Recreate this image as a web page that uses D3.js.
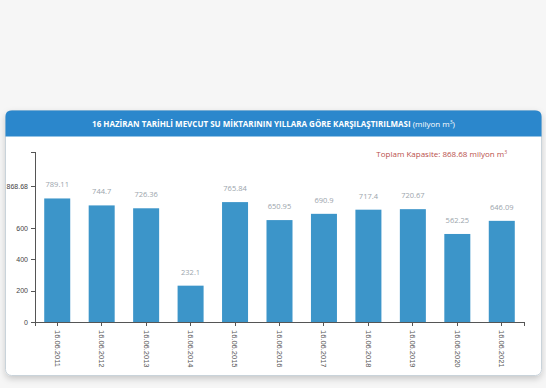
<!DOCTYPE html>
<meta charset="utf-8">
<style>
  body {
    margin: 0;
    background: #f6f6f6;
    font-family: 'Open Sans', sans-serif;
  }

  .axis path,
  .axis line {
    fill: none;
    stroke: #555;
    stroke-width: 1;
    shape-rendering: crispEdges;
  }

  .axis text {
    font-size: 7px;
    fill: #444;
  }
</style>

<body>
  <div id="chart"></div>
  <script src="https://d3js.org/d3.v7.min.js"></script>

  <script>
    // data
    var dates = ["16.06.2011", "16.06.2012", "16.06.2013", "16.06.2014", "16.06.2015", "16.06.2016",
      "16.06.2017", "16.06.2018", "16.06.2019", "16.06.2020", "16.06.2021"];
    var volumes = [789.11, 744.7, 726.36, 232.1, 765.84, 650.95, 690.9, 717.4, 720.67, 562.25, 646.09];
    var yTicks = [0, 200, 400, 600, 868.68];
    var capacity = 868.68;

    var W = 546, H = 388;

    var svg = d3.select("#chart")
      .append("svg")
      .attr("width", W)
      .attr("height", H);

    // card with shadow
    var defs = svg.append("defs");
    var f = defs.append("filter").attr("id", "shadow").attr("x", "-5%").attr("y", "-5%").attr("width", "110%").attr("height", "120%");
    f.append("feDropShadow").attr("dx", 0).attr("dy", 3).attr("stdDeviation", 3).attr("flood-color", "#000").attr("flood-opacity", 0.18);

    var card = {x: 5.5, y: 110.5, w: 536, h: 265, r: 6};
    svg.append("rect")
      .attr("x", card.x).attr("y", card.y)
      .attr("width", card.w).attr("height", card.h)
      .attr("rx", card.r)
      .attr("fill", "#fff")
      .attr("stroke", "#c9d3da")
      .attr("filter", "url(#shadow)");

    // blue header with rounded top corners
    var hh = 26;
    svg.append("path")
      .attr("d", "M" + card.x + "," + (card.y + hh) +
        "V" + (card.y + card.r) +
        "Q" + card.x + "," + card.y + " " + (card.x + card.r) + "," + card.y +
        "H" + (card.x + card.w - card.r) +
        "Q" + (card.x + card.w) + "," + card.y + " " + (card.x + card.w) + "," + (card.y + card.r) +
        "V" + (card.y + hh) + "Z")
      .attr("fill", "#2b87cc");

    var title = svg.append("text")
      .attr("x", card.x + card.w / 2)
      .attr("y", card.y + 16)
      .attr("text-anchor", "middle")
      .attr("fill", "#fff")
      .style("font-size", "8px")
      .style("font-weight", "bold");
    title.append("tspan").text("16 HAZİRAN TARİHLİ MEVCUT SU MİKTARININ YILLARA GÖRE KARŞILAŞTIRILMASI ");
    title.append("tspan").style("font-weight", "normal").text("(milyon m");
    title.append("tspan").style("font-weight", "normal").attr("dy", -3).style("font-size", "5px").text("3");
    title.append("tspan").style("font-weight", "normal").attr("dy", 3).text(")");

    // scales
    var x = d3.scaleBand()
      .domain(dates)
      .range([35, 524])
      .paddingInner(0.415)
      .paddingOuter(0.2075);

    var y = d3.scaleLinear()
      .domain([0, capacity * 1.25])
      .range([322, 152]);

    // axes
    svg.append("g")
      .attr("class", "axis")
      .attr("transform", "translate(35,0)")
      .call(d3.axisLeft(y).tickValues(yTicks).tickSize(4).tickFormat(function(d) { return d; }));

    var xAxis = svg.append("g")
      .attr("class", "axis")
      .attr("transform", "translate(0,322)")
      .call(d3.axisBottom(x).tickSize(4));
    xAxis.selectAll("text")
      .attr("transform", "rotate(90)")
      .attr("x", 8)
      .attr("y", 0)
      .attr("dy", "0.35em")
      .attr("text-anchor", "start")
      .style("font-size", "7.5px")
      .style("fill", "#555");

    // bars
    svg.selectAll(".bar")
      .data(volumes)
      .enter()
      .append("rect")
      .attr("class", "bar")
      .attr("x", function(d, i) { return x(dates[i]); })
      .attr("y", function(d) { return y(d); })
      .attr("width", x.bandwidth())
      .attr("height", function(d) { return y(0) - y(d); })
      .style("fill", "#3c95c9");

    // value labels
    svg.selectAll(".val")
      .data(volumes)
      .enter()
      .append("text")
      .attr("class", "val")
      .attr("x", function(d, i) { return x(dates[i]) + x.bandwidth() / 2; })
      .attr("y", function(d) { return y(d) - 11; })
      .attr("text-anchor", "middle")
      .style("font-size", "7.5px")
      .style("fill", "#9aa4ab")
      .text(function(d) { return d; });

    // capacity note
    var cap = svg.append("text")
      .attr("x", 507)
      .attr("y", 157)
      .attr("text-anchor", "end")
      .style("font-size", "8px")
      .style("fill", "#b9504c");
    cap.append("tspan").text("Toplam Kapasite: " + capacity + " milyon m");
    cap.append("tspan").attr("dy", -3).style("font-size", "5px").text("3");
  </script>
</body>
